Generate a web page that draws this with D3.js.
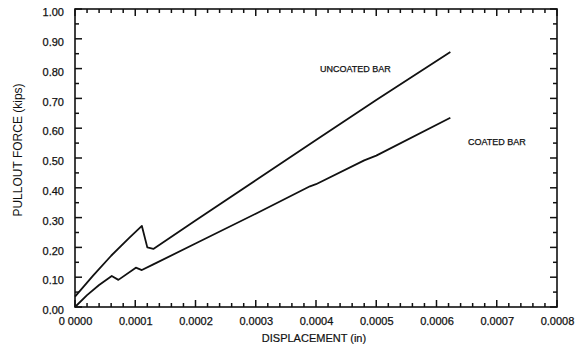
<!DOCTYPE html>
<html>
<head>
<meta charset="utf-8">
<script src="https://cdn.jsdelivr.net/npm/d3@7"></script>
<style>
  body { margin: 0; background: #fff; }
  svg { display: block; font-family: 'Liberation Sans', Arial, sans-serif; }
  .axis text { fill: #111; stroke: #111; stroke-width: 0.25; }
</style>
</head>
<body>
<svg id="chart" width="584" height="349"></svg>
<script>
// displacement (in) vs pullout force (kips)
const uncoatedX = [0, 0.00003, 0.00006, 0.00009, 0.000111, 0.00012, 0.00013, 0.0002, 0.0003, 0.0004, 0.0005, 0.000623];
const uncoatedY = [0.035, 0.105, 0.172, 0.232, 0.272, 0.200, 0.195, 0.290, 0.425, 0.560, 0.695, 0.856];

const coatedX = [0, 0.00002, 0.00004, 0.000061, 0.000072, 0.000101, 0.000111, 0.00013, 0.0002, 0.0003, 0.00039, 0.0004, 0.00048, 0.0005, 0.000623];
const coatedY = [0.0, 0.040, 0.074, 0.104, 0.091, 0.132, 0.124, 0.143, 0.213, 0.313, 0.405, 0.412, 0.492, 0.508, 0.635];

const xTicks = [0, 0.0001, 0.0002, 0.0003, 0.0004, 0.0005, 0.0006, 0.0007, 0.0008];
const yTicks = [0, 0.1, 0.2, 0.3, 0.4, 0.5, 0.6, 0.7, 0.8, 0.9, 1.0];

const seriesLabels = ['UNCOATED BAR', 'COATED BAR'];

const svg = d3.select('#chart');
const plot = {left: 75, right: 557, top: 9, bottom: 307};

const x = d3.scaleLinear().domain([0, 0.0008]).range([plot.left, plot.right]);
const y = d3.scaleLinear().domain([0, 1]).range([plot.bottom, plot.top]);

// minor ticks: 5 per x step, 2 per y step
const xMinor = d3.range(0, 41).filter(i => i % 5 !== 0).map(i => i * 0.00002);
const yMinor = d3.range(0, 10).map(i => i * 0.1 + 0.05);

// labels through d3 axes (tick lines drawn separately below)
const xAxis = svg.append('g').attr('class', 'axis x-axis')
  .attr('transform', `translate(0,${plot.bottom})`)
  .call(d3.axisBottom(x).tickValues(xTicks).tickSize(0).tickPadding(10)
    .tickFormat((d, i) => i === 0 ? '0 0000' : d3.format('.4f')(d)));
xAxis.select('.domain').remove();
xAxis.selectAll('text').attr('font-size', 11);

const yAxis = svg.append('g').attr('class', 'axis y-axis')
  .attr('transform', `translate(${plot.left},0)`)
  .call(d3.axisLeft(y).tickValues(yTicks).tickSize(0).tickPadding(11).tickFormat(d3.format('.2f')));
yAxis.select('.domain').remove();
yAxis.selectAll('text').attr('font-size', 11).attr('dy', '0.6em');

// inward tick marks on all four sides
const ticks = svg.append('g').attr('class', 'ticks').attr('stroke', '#111').attr('stroke-width', 1.5);
const xAll = xTicks.map(v => [v, 7]).concat(xMinor.map(v => [v, 4]));
const yAll = yTicks.map(v => [v, 7]).concat(yMinor.map(v => [v, 4]));
ticks.selectAll('.xb').data(xAll).join('line').attr('class', 'xb')
  .attr('x1', d => x(d[0])).attr('x2', d => x(d[0]))
  .attr('y1', plot.bottom).attr('y2', d => plot.bottom - d[1]);
ticks.selectAll('.xt').data(xAll).join('line').attr('class', 'xt')
  .attr('x1', d => x(d[0])).attr('x2', d => x(d[0]))
  .attr('y1', plot.top).attr('y2', d => plot.top + d[1]);
ticks.selectAll('.yl').data(yAll).join('line').attr('class', 'yl')
  .attr('y1', d => y(d[0])).attr('y2', d => y(d[0]))
  .attr('x1', plot.left).attr('x2', d => plot.left + d[1]);
ticks.selectAll('.yr').data(yAll).join('line').attr('class', 'yr')
  .attr('y1', d => y(d[0])).attr('y2', d => y(d[0]))
  .attr('x1', plot.right).attr('x2', d => plot.right - d[1]);

// frame
svg.append('rect')
  .attr('x', plot.left).attr('y', plot.top)
  .attr('width', plot.right - plot.left).attr('height', plot.bottom - plot.top)
  .attr('fill', 'none').attr('stroke', '#111').attr('stroke-width', 1.6);

const line = d3.line().x(d => x(d[0])).y(d => y(d[1]));
[[uncoatedX, uncoatedY], [coatedX, coatedY]].forEach(([xs, ys]) => {
  svg.append('path')
    .datum(xs.map((v, i) => [v, ys[i]]))
    .attr('d', line)
    .attr('fill', 'none')
    .attr('stroke', '#111')
    .attr('stroke-width', 1.8)
    .attr('stroke-linejoin', 'round');
});

// series labels
svg.append('text').attr('x', 320).attr('y', 72).attr('font-size', 9).attr('fill', '#111')
  .attr('stroke', '#111').attr('stroke-width', 0.25).text(seriesLabels[0]);
svg.append('text').attr('x', 468).attr('y', 145).attr('font-size', 9).attr('fill', '#111')
  .attr('stroke', '#111').attr('stroke-width', 0.25).text(seriesLabels[1]);

// axis titles
svg.append('text')
  .attr('x', 314).attr('y', 342)
  .attr('text-anchor', 'middle').attr('font-size', 11).attr('fill', '#111')
  .attr('stroke', '#111').attr('stroke-width', 0.2)
  .text('DISPLACEMENT (in)');
svg.append('text')
  .attr('transform', `translate(22,150) rotate(-90)`)
  .attr('text-anchor', 'middle').attr('font-size', 12).attr('fill', '#111')
  .text('PULLOUT FORCE (kips)');
</script>
</body>
</html>
